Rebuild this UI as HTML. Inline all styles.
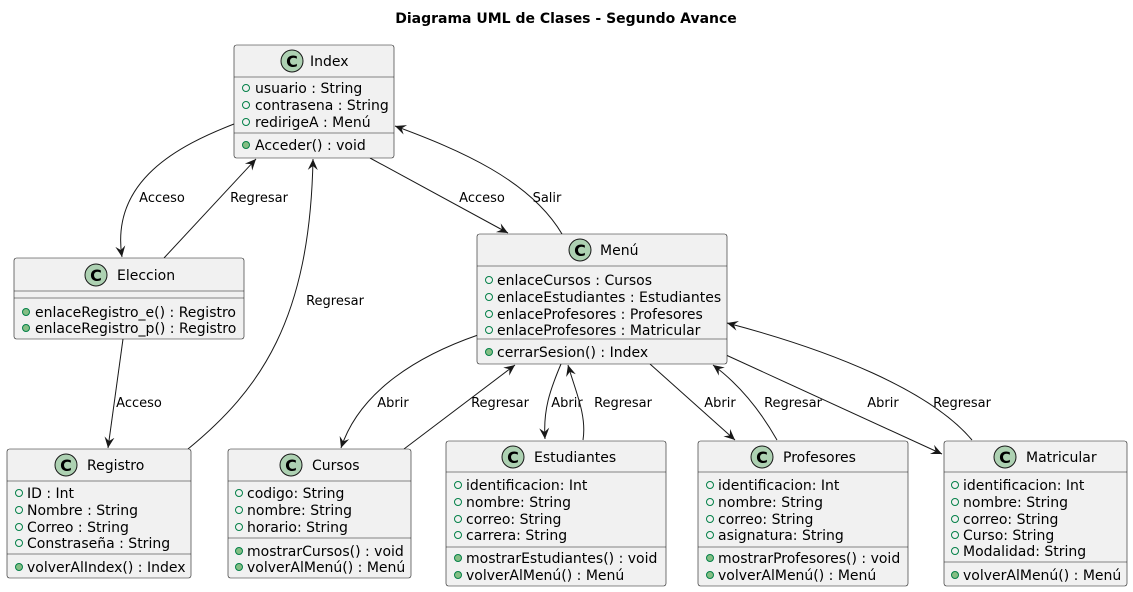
<!DOCTYPE html>
<html><head><meta charset="utf-8"><style>
html,body{margin:0;padding:0;background:#fff}
svg{display:block}
text{font-family:"DejaVu Sans","Liberation Sans",sans-serif;fill:#000}
.t{font-size:14px}
.l{font-size:13px}
.box{fill:#F1F1F1;stroke:#181818;stroke-width:0.6}
.sep{stroke:#181818;stroke-width:0.6}
.e{fill:none;stroke:#181818;stroke-width:1}
.ci{fill:#ADD1B2;stroke:#181818;stroke-width:1}
.ct{font-size:16px;font-weight:bold}
</style></head><body>
<svg width="1133" height="592" viewBox="0 0 1133 592" xmlns="http://www.w3.org/2000/svg">
<defs>
<marker id="a" viewBox="0 0 12 12" refX="11" refY="6" markerWidth="12" markerHeight="12" orient="auto" markerUnits="userSpaceOnUse">
<path d="M0,1 L11,6 L0,11 L4,6 Z" fill="#181818"/>
</marker>
<g id="oa"><circle r="3.5" fill="none" stroke="#038048" stroke-width="1"/></g>
<g id="om"><circle r="3.5" fill="#84BE84" stroke="#038048" stroke-width="1"/></g>
</defs>
<text x="566" y="23" text-anchor="middle" style="font-size:14px;font-weight:bold">Diagrama UML de Clases - Segundo Avance</text>

<!-- edges -->
<path class="e" d="M234,124 C180,145 110,180 122,257" marker-end="url(#a)"/>
<text class="l" x="162" y="202" text-anchor="middle">Acceso</text>
<path class="e" d="M164,258 L256,159" marker-end="url(#a)"/>
<text class="l" x="259" y="202" text-anchor="middle">Regresar</text>
<path class="e" d="M188,449 C260,390 310,320 313,159" marker-end="url(#a)"/>
<text class="l" x="335" y="305" text-anchor="middle">Regresar</text>
<path class="e" d="M123,339 L108,448" marker-end="url(#a)"/>
<text class="l" x="139" y="407" text-anchor="middle">Acceso</text>
<path class="e" d="M370,158 L508,233" marker-end="url(#a)"/>
<text class="l" x="482" y="202" text-anchor="middle">Acceso</text>
<path class="e" d="M562,234 C530,180 460,150 395,126" marker-end="url(#a)"/>
<text class="l" x="547" y="202" text-anchor="middle">Salir</text>
<path class="e" d="M478,335 C420,355 360,390 341,448" marker-end="url(#a)"/>
<text class="l" x="393" y="407" text-anchor="middle">Abrir</text>
<path class="e" d="M404,449 L515,365" marker-end="url(#a)"/>
<text class="l" x="500" y="407" text-anchor="middle">Regresar</text>
<path class="e" d="M561,364 C550,390 543,410 545,439" marker-end="url(#a)"/>
<text class="l" x="567" y="407" text-anchor="middle">Abrir</text>
<path class="e" d="M583,440 C587,415 575,390 568,365" marker-end="url(#a)"/>
<text class="l" x="623" y="407" text-anchor="middle">Regresar</text>
<path class="e" d="M650,364 L735,440" marker-end="url(#a)"/>
<text class="l" x="720" y="407" text-anchor="middle">Abrir</text>
<path class="e" d="M777,440 C760,410 740,385 713,365" marker-end="url(#a)"/>
<text class="l" x="793" y="407" text-anchor="middle">Regresar</text>
<path class="e" d="M726,355 L942,454" marker-end="url(#a)"/>
<text class="l" x="883" y="407" text-anchor="middle">Abrir</text>
<path class="e" d="M972,440 C930,390 830,350 727,323" marker-end="url(#a)"/>
<text class="l" x="962" y="407" text-anchor="middle">Regresar</text>

<!-- Index -->
<rect class="box" x="234" y="45" width="160" height="113" rx="2.5"/>
<line class="sep" x1="234" y1="77" x2="394" y2="77"/>
<line class="sep" x1="234" y1="133" x2="394" y2="133"/>
<circle class="ci" cx="292" cy="61" r="11"/><text class="ct" x="292" y="67" text-anchor="middle">C</text>
<text class="t" x="310" y="66">Index</text>
<use href="#oa" x="246" y="88"/><text class="t" x="255" y="93">usuario : String</text>
<use href="#oa" x="246" y="105"/><text class="t" x="255" y="110">contrasena : String</text>
<use href="#oa" x="246" y="122"/><text class="t" x="255" y="127">redirigeA : Menú</text>
<use href="#om" x="246" y="145"/><text class="t" x="255" y="150">Acceder() : void</text>

<!-- Eleccion -->
<rect class="box" x="14" y="258" width="230" height="81" rx="2.5"/>
<line class="sep" x1="14" y1="291" x2="244" y2="291"/>
<line class="sep" x1="14" y1="298" x2="244" y2="298"/>
<circle class="ci" cx="96" cy="275" r="11"/><text class="ct" x="96" y="281" text-anchor="middle">C</text>
<text class="t" x="117" y="280">Eleccion</text>
<use href="#om" x="26" y="312"/><text class="t" x="35" y="317">enlaceRegistro_e() : Registro</text>
<use href="#om" x="26" y="328"/><text class="t" x="35" y="333">enlaceRegistro_p() : Registro</text>

<!-- Registro -->
<rect class="box" x="7" y="449" width="184" height="129" rx="2.5"/>
<line class="sep" x1="7" y1="481" x2="191" y2="481"/>
<line class="sep" x1="7" y1="554" x2="191" y2="554"/>
<circle class="ci" cx="66" cy="465" r="11"/><text class="ct" x="66" y="471" text-anchor="middle">C</text>
<text class="t" x="87" y="470">Registro</text>
<use href="#oa" x="19" y="493"/><text class="t" x="27" y="498">ID : Int</text>
<use href="#oa" x="19" y="510"/><text class="t" x="27" y="515">Nombre : String</text>
<use href="#oa" x="19" y="527"/><text class="t" x="27" y="532">Correo : String</text>
<use href="#oa" x="19" y="543"/><text class="t" x="27" y="548">Constraseña : String</text>
<use href="#om" x="19" y="567"/><text class="t" x="27" y="572">volverAlIndex() : Index</text>

<!-- Cursos -->
<rect class="box" x="228" y="449" width="183" height="129" rx="2.5"/>
<line class="sep" x1="228" y1="481" x2="411" y2="481"/>
<line class="sep" x1="228" y1="538" x2="411" y2="538"/>
<circle class="ci" cx="291" cy="465" r="11"/><text class="ct" x="291" y="471" text-anchor="middle">C</text>
<text class="t" x="312" y="470">Cursos</text>
<use href="#oa" x="239" y="493"/><text class="t" x="247" y="498">codigo: String</text>
<use href="#oa" x="239" y="510"/><text class="t" x="247" y="515">nombre: String</text>
<use href="#oa" x="239" y="527"/><text class="t" x="247" y="532">horario: String</text>
<use href="#om" x="239" y="551"/><text class="t" x="247" y="556">mostrarCursos() : void</text>
<use href="#om" x="239" y="567"/><text class="t" x="247" y="572">volverAlMenú() : Menú</text>

<!-- Menu -->
<rect class="box" x="477" y="234" width="250" height="130" rx="2.5"/>
<line class="sep" x1="477" y1="266" x2="727" y2="266"/>
<line class="sep" x1="477" y1="339" x2="727" y2="339"/>
<circle class="ci" cx="580" cy="250" r="11"/><text class="ct" x="580" y="256" text-anchor="middle">C</text>
<text class="t" x="600" y="255">Menú</text>
<use href="#oa" x="489" y="280"/><text class="t" x="497" y="285">enlaceCursos : Cursos</text>
<use href="#oa" x="489" y="297"/><text class="t" x="497" y="302">enlaceEstudiantes : Estudiantes</text>
<use href="#oa" x="489" y="314"/><text class="t" x="497" y="319">enlaceProfesores : Profesores</text>
<use href="#oa" x="489" y="330"/><text class="t" x="497" y="335">enlaceProfesores : Matricular</text>
<use href="#om" x="489" y="352"/><text class="t" x="497" y="357">cerrarSesion() : Index</text>

<!-- Estudiantes -->
<rect class="box" x="446" y="441" width="220" height="145" rx="2.5"/>
<line class="sep" x1="446" y1="472" x2="666" y2="472"/>
<line class="sep" x1="446" y1="547" x2="666" y2="547"/>
<circle class="ci" cx="513" cy="457" r="11"/><text class="ct" x="513" y="463" text-anchor="middle">C</text>
<text class="t" x="534" y="462">Estudiantes</text>
<use href="#oa" x="458" y="485"/><text class="t" x="466" y="490">identificacion: Int</text>
<use href="#oa" x="458" y="502"/><text class="t" x="466" y="507">nombre: String</text>
<use href="#oa" x="458" y="519"/><text class="t" x="466" y="524">correo: String</text>
<use href="#oa" x="458" y="535"/><text class="t" x="466" y="540">carrera: String</text>
<use href="#om" x="458" y="558"/><text class="t" x="466" y="563">mostrarEstudiantes() : void</text>
<use href="#om" x="458" y="575"/><text class="t" x="466" y="580">volverAlMenú() : Menú</text>

<!-- Profesores -->
<rect class="box" x="698" y="441" width="210" height="145" rx="2.5"/>
<line class="sep" x1="698" y1="472" x2="908" y2="472"/>
<line class="sep" x1="698" y1="547" x2="908" y2="547"/>
<circle class="ci" cx="762" cy="457" r="11"/><text class="ct" x="762" y="463" text-anchor="middle">C</text>
<text class="t" x="783" y="462">Profesores</text>
<use href="#oa" x="710" y="485"/><text class="t" x="718" y="490">identificacion: Int</text>
<use href="#oa" x="710" y="502"/><text class="t" x="718" y="507">nombre: String</text>
<use href="#oa" x="710" y="519"/><text class="t" x="718" y="524">correo: String</text>
<use href="#oa" x="710" y="535"/><text class="t" x="718" y="540">asignatura: String</text>
<use href="#om" x="710" y="558"/><text class="t" x="718" y="563">mostrarProfesores() : void</text>
<use href="#om" x="710" y="575"/><text class="t" x="718" y="580">volverAlMenú() : Menú</text>

<!-- Matricular -->
<rect class="box" x="944" y="441" width="183" height="145" rx="2.5"/>
<line class="sep" x1="944" y1="472" x2="1127" y2="472"/>
<line class="sep" x1="944" y1="562" x2="1127" y2="562"/>
<circle class="ci" cx="1005" cy="457" r="11"/><text class="ct" x="1005" y="463" text-anchor="middle">C</text>
<text class="t" x="1026" y="462">Matricular</text>
<use href="#oa" x="955" y="485"/><text class="t" x="963" y="490">identificacion: Int</text>
<use href="#oa" x="955" y="502"/><text class="t" x="963" y="507">nombre: String</text>
<use href="#oa" x="955" y="519"/><text class="t" x="963" y="524">correo: String</text>
<use href="#oa" x="955" y="535"/><text class="t" x="963" y="540">Curso: String</text>
<use href="#oa" x="955" y="551"/><text class="t" x="963" y="556">Modalidad: String</text>
<use href="#om" x="955" y="575"/><text class="t" x="963" y="580">volverAlMenú() : Menú</text>
</svg>
</body></html>
